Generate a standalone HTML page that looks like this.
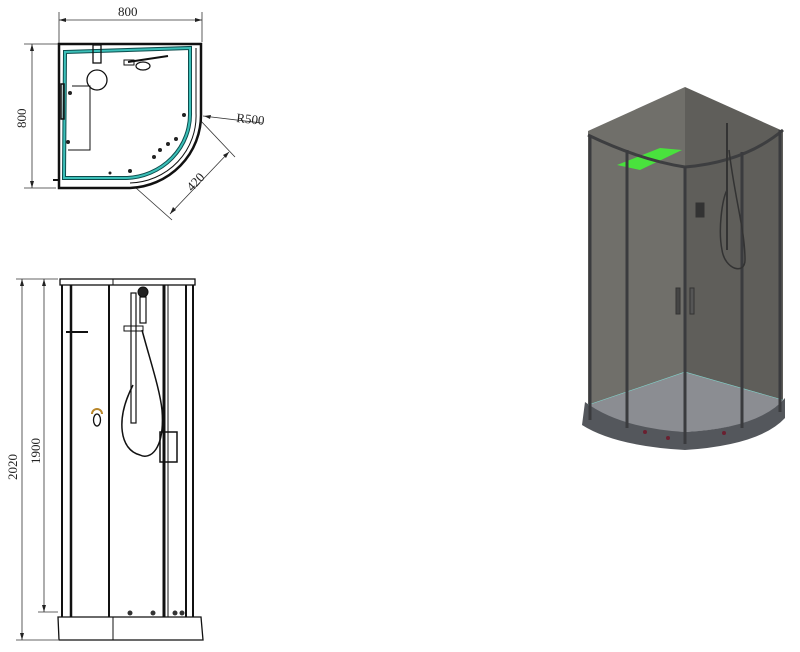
<!DOCTYPE html>
<html><head><style>
html,body{margin:0;padding:0;background:#fff;width:800px;height:652px;overflow:hidden}
svg{display:block}
text{font-family:"Liberation Serif",serif;font-size:13px;fill:#222}
</style></head><body>
<svg width="800" height="652" viewBox="0 0 800 652" xmlns="http://www.w3.org/2000/svg">
<!-- PLAN VIEW -->
<g stroke="#333" stroke-width="0.8" fill="none">
  <line x1="59" y1="12" x2="59" y2="44"/><line x1="202" y1="12" x2="202" y2="42"/>
  <line x1="59" y1="20" x2="202" y2="20"/>
  <line x1="24" y1="44" x2="59" y2="44"/><line x1="24" y1="188" x2="56" y2="188"/>
  <line x1="32" y1="44" x2="32" y2="188"/>
  <line x1="203" y1="116" x2="262" y2="123"/>
  <line x1="200" y1="120" x2="235" y2="157"/>
  <line x1="136" y1="188" x2="172" y2="220"/>
  <line x1="229" y1="152" x2="170" y2="214"/>
</g>
<g fill="#222">
  <polygon points="59,20 66,18 66,22"/><polygon points="202,20 195,18 195,22"/>
  <polygon points="32,44 30,51 34,51"/><polygon points="32,188 30,181 34,181"/>
  <polygon points="204,116 211,115 210,119"/>
  <polygon points="229,152 223,155 226,158"/><polygon points="170,214 173,207 176,210"/>
</g>
<text x="118" y="16">800</text>
<text transform="translate(26,128) rotate(-90)">800</text>
<text x="236" y="122" transform="rotate(6 236 122)">R500</text>
<text transform="translate(192,192) rotate(-47)">420</text>
<!-- frame -->
<g fill="none" stroke="#111">
  <path d="M59,44 H201 V115 A74,73 0 0 1 130,188 H59 Z" stroke-width="2.5"/>
  <path d="M196,48 V113 A68,67 0 0 1 130,183" stroke-width="1"/>
  <path d="M65,52 L190,48 V112 A66,64 0 0 1 126,178 H64 Z" stroke="#0c4c4c" stroke-width="4"/>
  <path d="M65,52 L190,48 V112 A66,64 0 0 1 126,178 H64 Z" stroke="#3bbfb8" stroke-width="2"/>
  <circle cx="97" cy="80" r="10" stroke-width="1.3"/>
  <path d="M72,86 H90 V150 H68" stroke-width="1"/>
  <rect x="93" y="45" width="8" height="18" stroke-width="1.3"/>
  <rect x="124" y="60" width="10" height="5" stroke-width="1"/>
  <path d="M128,62 L168,56" stroke-width="2"/>
  <ellipse cx="143" cy="66" rx="7" ry="4" stroke-width="1.2"/>
  <rect x="61" y="84" width="3" height="35" stroke-width="1.5"/>
  <line x1="53" y1="180" x2="59" y2="180" stroke-width="2"/>
</g>
<g fill="#222">
  <circle cx="70" cy="93" r="2"/><circle cx="68" cy="142" r="2"/><circle cx="184" cy="115" r="2"/>
  <circle cx="176" cy="139" r="2"/><circle cx="168" cy="144" r="2"/><circle cx="160" cy="150" r="2"/>
  <circle cx="154" cy="157" r="2"/><circle cx="130" cy="171" r="2"/><circle cx="110" cy="173" r="1.5"/>
</g>
<!-- ELEVATION -->
<g stroke="#333" stroke-width="0.8" fill="none">
  <line x1="16" y1="279" x2="58" y2="279"/><line x1="16" y1="640" x2="58" y2="640"/>
  <line x1="38" y1="612" x2="58" y2="612"/>
  <line x1="22" y1="279" x2="22" y2="640"/><line x1="44" y1="279" x2="44" y2="612"/>
</g>
<g fill="#222">
  <polygon points="22,279 20,286 24,286"/><polygon points="22,640 20,633 24,633"/>
  <polygon points="44,279 42,286 46,286"/><polygon points="44,612 42,605 46,605"/>
</g>
<text transform="translate(17,480) rotate(-90)">2020</text>
<text transform="translate(40,464) rotate(-90)">1900</text>
<g fill="none" stroke="#111">
  <rect x="60" y="279" width="135" height="6" stroke-width="1.3"/>
  <line x1="113" y1="279" x2="113" y2="285" stroke-width="1"/>
  <path d="M58,617 H201 L203,640 H59 Z" stroke-width="1.3"/>
  <line x1="113" y1="617" x2="113" y2="640" stroke-width="1"/>
  <line x1="62" y1="285" x2="62" y2="617" stroke-width="2"/>
  <line x1="71" y1="285" x2="71" y2="617" stroke-width="2.5"/>
  <line x1="109" y1="285" x2="109" y2="617" stroke-width="2"/>
  <line x1="164" y1="285" x2="164" y2="617" stroke-width="3"/>
  <line x1="168" y1="285" x2="168" y2="617" stroke-width="1"/>
  <line x1="186" y1="285" x2="186" y2="617" stroke-width="2"/>
  <line x1="193" y1="285" x2="193" y2="617" stroke-width="2"/>
  <line x1="66" y1="332" x2="88" y2="332" stroke-width="2"/>
  <rect x="131" y="293" width="5" height="130" stroke-width="1.2"/>
  <rect x="140" y="297" width="6" height="26" stroke-width="1.2"/>
  <circle cx="143" cy="292" r="5" fill="#222"/>
  <rect x="124" y="326" width="19" height="5" stroke-width="1"/>
  <path d="M142,330 C150,360 160,390 162,410 C165,450 150,460 140,455 C120,450 115,420 133,385" stroke-width="1.5"/>
  <rect x="160" y="432" width="17" height="30" stroke-width="1.5"/>
  <path d="M92,414 A5,5 0 1 1 102,414" stroke="#b8862a" stroke-width="2"/>
  <ellipse cx="97" cy="420" rx="3.5" ry="6" stroke-width="1.3"/>
</g>
<g fill="#333"><circle cx="130" cy="613" r="2.5"/><circle cx="153" cy="613" r="2.5"/><circle cx="175" cy="613" r="2.5"/><circle cx="182" cy="613" r="2.5"/></g>
<!-- 3D VIEW -->
<polygon points="588,131 685,87 685,372 588,405" fill="#706f6a"/>
<polygon points="685,87 783,131 783,400 685,372" fill="#5f5e5a"/>
<path d="M588,405 L685,372 L783,400 Q760,428 685,432 Q620,430 588,405 Z" fill="#8b8d92"/>
<path d="M585,402 Q620,428 685,432 Q760,428 785,398 L785,418 Q760,445 685,450 Q615,446 582,425 Z" fill="#54575c"/>
<path d="M588,405 L685,372 L783,400" fill="none" stroke="#7fd0c8" stroke-width="0.6"/>
<polygon points="617,165 660,148 682,150 640,170" fill="#49e23d"/>
<path d="M588,135 Q640,160 685,167 Q745,162 783,130" fill="none" stroke="#3d3e40" stroke-width="3"/>
<g stroke="#3a3b3e" stroke-width="3">
  <line x1="590" y1="135" x2="590" y2="420"/><line x1="627" y1="150" x2="627" y2="428"/>
  <line x1="685" y1="167" x2="685" y2="444"/><line x1="742" y1="152" x2="742" y2="428"/>
  <line x1="780" y1="130" x2="780" y2="412"/>
</g>
<g stroke="#333" fill="none">
  <line x1="727" y1="123" x2="727" y2="250" stroke-width="2"/>
  <path d="M729,150 C735,200 745,230 745,260 C745,275 725,270 722,250 C718,230 722,200 727,190" stroke-width="1.5"/>
  <rect x="676" y="288" width="4" height="26" fill="#444"/><rect x="690" y="288" width="4" height="26" fill="#555"/>
  <rect x="696" y="203" width="8" height="14" fill="#333"/>
</g>
<g fill="#6a2030"><circle cx="645" cy="432" r="2"/><circle cx="668" cy="438" r="2"/><circle cx="724" cy="433" r="2"/></g>
</svg>
</body></html>
